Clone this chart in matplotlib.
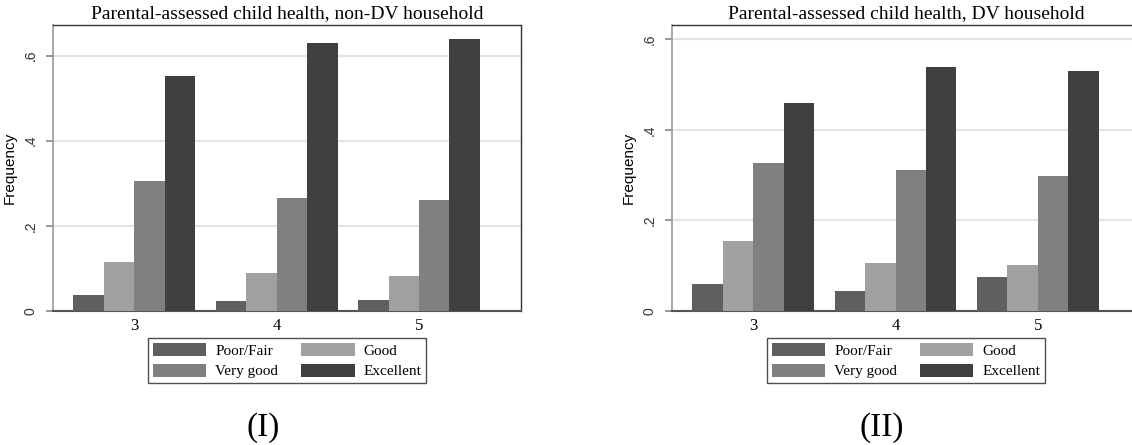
import matplotlib.pyplot as plt
import numpy as np

groups = ['3', '4', '5']
categories = ['Poor/Fair', 'Good', 'Very good', 'Excellent']
colors = ['#5f5f5f', '#a0a0a0', '#808080', '#404040']

# frequencies by category, one value per group (3, 4, 5)
non_dv = {
    'Poor/Fair': [0.036, 0.023, 0.025],
    'Good': [0.114, 0.088, 0.082],
    'Very good': [0.305, 0.265, 0.260],
    'Excellent': [0.552, 0.630, 0.639],
}
dv = {
    'Poor/Fair': [0.060, 0.043, 0.075],
    'Good': [0.155, 0.105, 0.100],
    'Very good': [0.327, 0.312, 0.297],
    'Excellent': [0.459, 0.539, 0.531],
}

yticks = [0, 0.2, 0.4, 0.6]
ytick_labels = ['0', '.2', '.4', '.6']

SERIF = 'Liberation Serif'
SANS = 'Liberation Sans'


def draw_panel(ax, data, title, ymax):
    x = np.arange(len(groups))
    w = 0.214
    for i, cat in enumerate(categories):
        ax.bar(x + (i - 1.5) * w, data[cat], width=w, color=colors[i],
               label=cat, zorder=3, linewidth=0)
    ax.set_xlim(-0.573, 2.72)
    ax.set_ylim(0, ymax)
    ax.set_xticks(x)
    ax.set_xticklabels(groups, fontfamily=SERIF, fontsize=12)
    ax.tick_params(axis='x', length=0, pad=5)
    ax.set_yticks(yticks)
    ax.set_yticklabels(ytick_labels, rotation=90, va='center',
                       fontfamily=SANS, fontsize=10, color='#333333')
    ax.tick_params(axis='y', length=5, width=1.2, color='#888888', pad=6)
    ax.grid(axis='y', color='#e4e4e4', linewidth=1.5, zorder=0)
    ax.set_ylabel('Frequency', fontfamily=SANS, fontsize=11, labelpad=5)
    ax.set_title(title, fontfamily=SERIF, fontsize=14, pad=5)
    ax.spines['left'].set_color('#999999')
    ax.spines['left'].set_linewidth(1.2)
    ax.spines['bottom'].set_color('#555555')
    ax.spines['bottom'].set_linewidth(1.5)
    ax.spines['top'].set_color('#333333')
    ax.spines['right'].set_color('#333333')
    ax.spines['top'].set_linewidth(1.0)
    ax.spines['right'].set_linewidth(1.0)
    handles, labels = ax.get_legend_handles_labels()
    order = [0, 2, 1, 3]
    leg = ax.legend([handles[k] for k in order], [labels[k] for k in order],
                    ncol=2, loc='upper center', bbox_to_anchor=(0.5, -0.096),
                    borderaxespad=0, fancybox=False, frameon=True,
                    prop={'family': SERIF, 'size': 11},
                    handlelength=3.5, handleheight=0.95, handletextpad=0.6,
                    columnspacing=1.5, labelspacing=0.4, borderpad=0.3)
    leg.get_frame().set_edgecolor('#222222')
    leg.get_frame().set_linewidth(1.0)


fig = plt.figure(figsize=(11.32, 4.45), dpi=100)
ax1 = fig.add_axes([0.0467, 0.3018, 0.4139, 0.6413])
ax2 = fig.add_axes([0.5934, 0.3018, 0.4139, 0.6413])

draw_panel(ax1, non_dv, 'Parental-assessed child health, non-DV household', 0.6716)
draw_panel(ax2, dv, 'Parental-assessed child health, DV household', 0.631)

fig.text(0.2325, 0.038, '(I)', fontfamily=SERIF, fontsize=24, ha='center', va='center')
fig.text(0.7788, 0.038, '(II)', fontfamily=SERIF, fontsize=24, ha='center', va='center')

fig.savefig('out.png', dpi=100)
